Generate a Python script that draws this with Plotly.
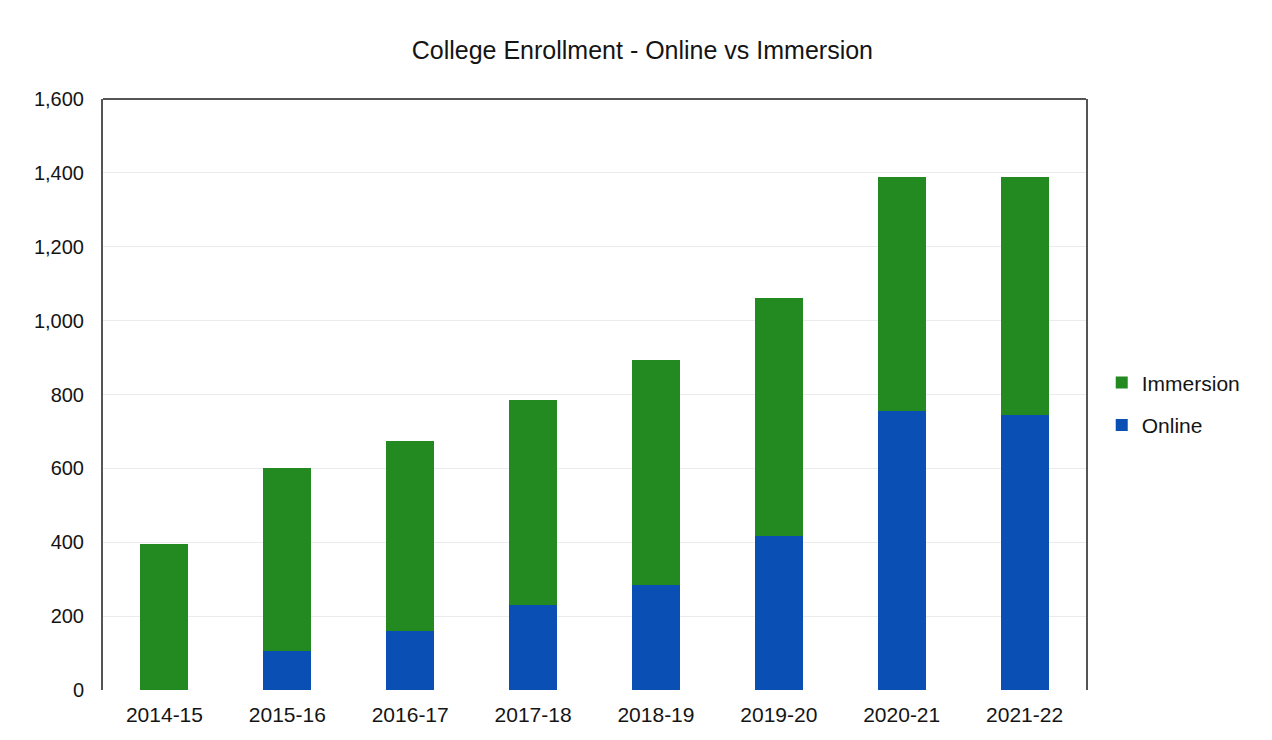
import plotly.graph_objects as go

# Academic years on the category axis
years = ["2014-15", "2015-16", "2016-17", "2017-18",
         "2018-19", "2019-20", "2020-21", "2021-22"]

# Enrollment counts per delivery mode
online = [0, 105, 160, 230, 285, 417, 756, 745]
immersion = [395, 495, 515, 556, 609, 645, 634, 643]

# Y-axis ticks
y_ticks = [0, 200, 400, 600, 800, 1000, 1200, 1400, 1600]
y_tick_labels = ["0", "200", "400", "600", "800", "1,000", "1,200", "1,400", "1,600"]

GREEN = "#238a22"
BLUE = "#0a4fb3"
FONT = "Liberation Sans, Arial, sans-serif"
TEXT = "#141414"

fig = go.Figure()
fig.add_trace(go.Bar(name="Online", x=years, y=online,
                     legendgroup="online", legendrank=2,
                     marker=dict(color=BLUE, line=dict(width=0))))
fig.add_trace(go.Bar(name="Immersion", x=years, y=immersion,
                     legendgroup="immersion", legendrank=1,
                     marker=dict(color=GREEN, line=dict(width=0))))

fig.update_layout(
    width=1272, height=740,
    barmode="stack", bargap=0.61,
    paper_bgcolor="white", plot_bgcolor="white",
    margin=dict(l=103, r=186, t=99, b=50),
    font=dict(family=FONT, size=20, color=TEXT),
    title=dict(text="College Enrollment - Online vs Immersion",
               x=0.505, xanchor="center", y=0.932, yanchor="middle",
               font=dict(family=FONT, size=25, color=TEXT)),
    legend=dict(x=1.016, y=0.484, xanchor="left", yanchor="middle",
                traceorder="grouped", tracegroupgap=12,
                itemwidth=30,
                font=dict(family=FONT, size=21, color=TEXT)),
    showlegend=True,
)

fig.update_xaxes(showgrid=False, showline=False, zeroline=False,
                 ticks="", tickfont=dict(size=21), ticklabelstandoff=10)
fig.update_yaxes(range=[0, 1600], tickvals=y_ticks, ticktext=y_tick_labels,
                 showgrid=True, gridcolor="#ebebeb", gridwidth=1,
                 zeroline=False, showline=True, linecolor="#555",
                 linewidth=2, mirror=True, ticks="",
                 tickfont=dict(size=20), ticklabelstandoff=13)

# Top border of the plot frame
fig.add_shape(type="line", xref="paper", yref="paper",
              x0=0, x1=1, y0=1, y1=1, line=dict(color="#555", width=2))

fig.write_html("out.html")
